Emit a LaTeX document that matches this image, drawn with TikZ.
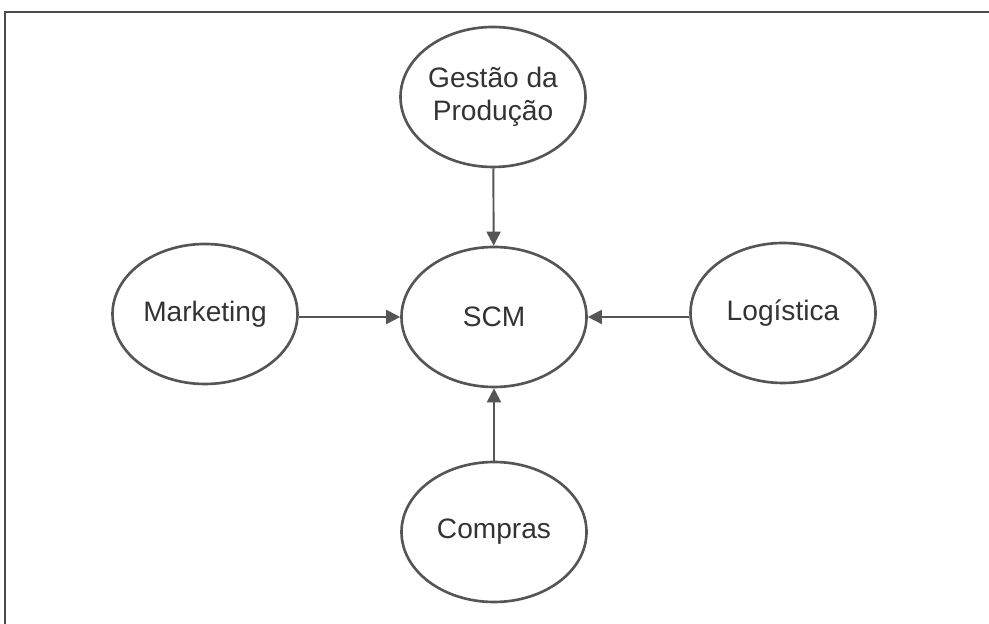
\documentclass[tikz,border=0pt]{standalone}
\usepackage{fontspec}
\setmainfont{Liberation Sans}
\usetikzlibrary{arrows.meta,shapes.geometric}
\definecolor{linegray}{HTML}{555555}
\tikzset{
	area/.style={draw=linegray, line width=1.5pt, ellipse, minimum width=3.7cm, minimum height=2.8cm, inner sep=0pt, align=center, font=\fontsize{16}{19}\selectfont, text=black!80},
	feed/.style={draw=linegray, line width=1.1pt, -{Triangle[length=8pt,width=8pt]}}
}

\begin{document}
\begin{tikzpicture}
		%%%%% START %%%%%
		\useasboundingbox (0, 0) rectangle (19.78, 12.48);
		\draw[black!70, line width=1pt] (0.10, 0) -- (0.10, 12.24) -- (19.78, 12.24);
		
		\node[area] (scm) at (9.88, 6.14) {SCM};
		\node[area] (producao) at (9.86, 10.54) {Gestão da\\Produção};
		\node[area] (marketing) at (4.10, 6.20) {Marketing};
		\node[area] (logistica) at (15.66, 6.22) {Logística};
		\node[area] (compras) at (9.88, 1.84) {Compras};
		
		\draw[feed] (producao) -- (scm);
		\draw[feed] (marketing.east |- scm) -- (scm);
		\draw[feed] (logistica.west |- scm) -- (scm);
		\draw[feed] (compras) -- (scm);
		%%%%% END %%%%%
	\end{tikzpicture}
\end{document}
